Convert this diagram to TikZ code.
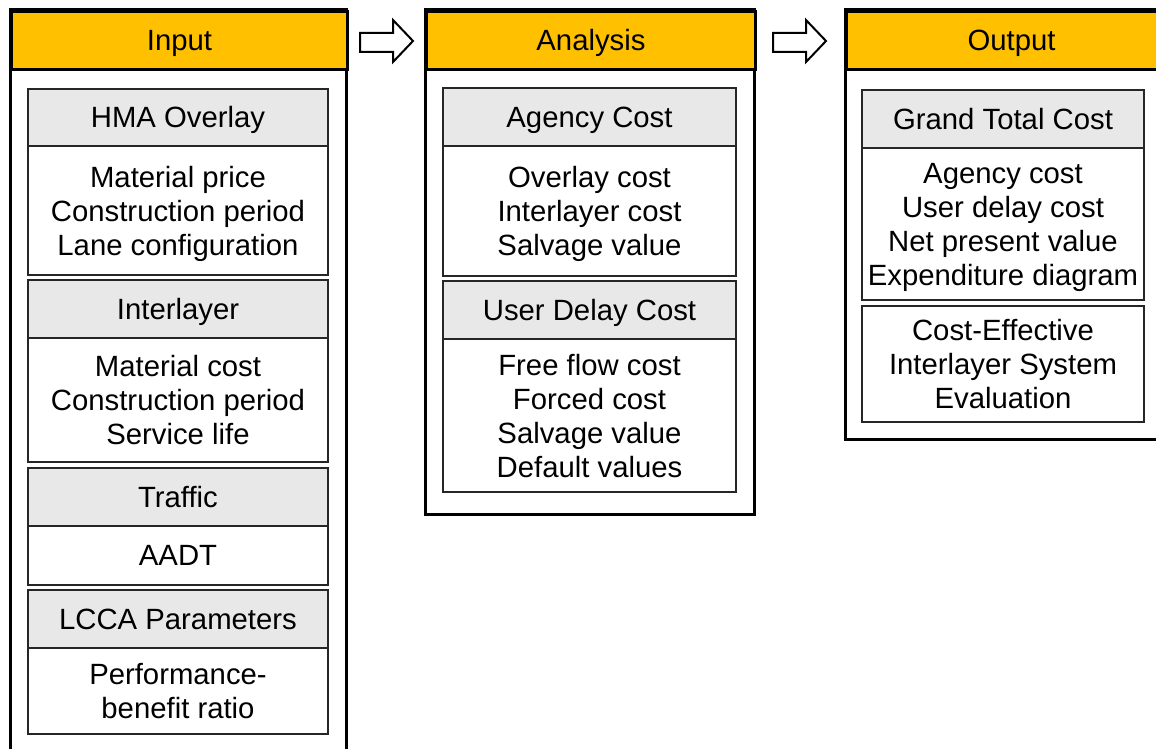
\documentclass[tikz,border=0pt]{standalone}
\usepackage{fontspec}
\setmainfont{Liberation Sans}
\definecolor{amber}{HTML}{FFC000}
\definecolor{lgray}{HTML}{E8E8E8}
\begin{document}
\begin{tikzpicture}[x=1pt,y=1pt,
  every node/.style={font=\fontsize{29.3}{34}\selectfont, inner sep=0pt, align=center},
  outerbox/.style={draw=black, line width=3pt, fill=white},
  mainhdr/.style={draw=black, line width=3pt, fill=amber, anchor=north west, text height=21pt, text depth=0pt},
  subhdr/.style={draw=black!85, line width=2pt, fill=lgray, anchor=north west, text height=21pt, text depth=0pt},
  subbody/.style={draw=black!85, line width=2pt, fill=white, anchor=north west, text depth=0pt},
  blockarrow/.style={draw=black, line width=2pt, fill=white, line join=miter}]
\useasboundingbox (0,0) rectangle (1156,-749);
\clip (0,0) rectangle (1156,-749);
% outer frames
\draw[outerbox] (10,-10) rectangle (346,-775);
\draw[outerbox] (425,-10) rectangle (754,-514);
\draw[outerbox] (845,-10) rectangle (1175,-439);
% headers
\node[mainhdr, minimum width=336, minimum height=58] (in) at (10,-10) {Input};
\node[mainhdr, minimum width=329, minimum height=58] (an) at (425,-10) {Analysis};
\node[mainhdr, minimum width=330, minimum height=58] (out) at (845,-10) {Output};
% Input column
\node[subhdr, minimum width=300, minimum height=57] (hma) at (27,-88) {HMA Overlay};
\node[subbody, minimum width=300, minimum height=129] (hmab) at (27,-145) {Material price\\Construction period\\Lane configuration};
\node[subhdr, minimum width=300, minimum height=58] (il) at (27,-279) {Interlayer};
\node[subbody, minimum width=300, minimum height=124] (ilb) at (27,-337) {Material cost\\Construction period\\Service life};
\node[subhdr, minimum width=300, minimum height=58] (tr) at (27,-467) {Traffic};
\node[subbody, minimum width=300, minimum height=59] (trb) at (27,-525) {AADT};
\node[subhdr, minimum width=300, minimum height=58] (lc) at (27,-589) {LCCA Parameters};
\node[subbody, minimum width=300, minimum height=86] (lcb) at (27,-647) {Performance-\\benefit ratio};
% Analysis column
\node[subhdr, minimum width=293, minimum height=58] (ag) at (442,-87) {Agency Cost};
\node[subbody, minimum width=293, minimum height=130] (agb) at (442,-145) {Overlay cost\\Interlayer cost\\Salvage value};
\node[subhdr, minimum width=293, minimum height=58] (ud) at (442,-280) {User Delay Cost};
\node[subbody, minimum width=293, minimum height=153] (udb) at (442,-338) {Free flow cost\\Forced cost\\Salvage value\\Default values};
% Output column
\node[subhdr, minimum width=282, minimum height=58] (gt) at (861,-89) {Grand Total Cost};
\node[subbody, minimum width=282, minimum height=152] (gtb) at (861,-147) {Agency cost\\User delay cost\\Net present value\\Expenditure diagram};
\node[subbody, minimum width=282, minimum height=116] (ce) at (861,-305) {Cost-Effective\\Interlayer System\\Evaluation};
% block arrows
\draw[blockarrow] (360,-33) -- (393,-33) -- (393,-20) -- (413,-41) -- (393,-62) -- (393,-52) -- (360,-52) -- cycle;
\draw[blockarrow] (773,-33) -- (806,-33) -- (806,-20) -- (826,-41) -- (806,-62) -- (806,-52) -- (773,-52) -- cycle;
\end{tikzpicture}
\end{document}
